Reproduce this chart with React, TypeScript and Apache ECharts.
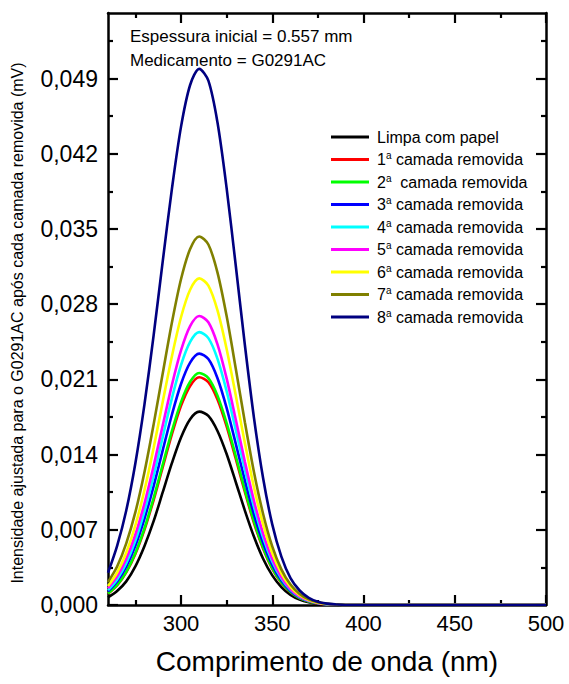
import React, { useEffect, useRef } from "react";
import * as echarts from "echarts";

const FONT = 'Arial, "Liberation Sans", sans-serif';

const wavelengths = [260, 265, 270, 275, 280, 285, 290, 295, 300, 305, 310, 315, 320, 325, 330, 335, 340, 345, 350, 355, 360, 365, 370, 375, 380, 385, 390, 400, 450, 500];

const seriesNames = [
  "Limpa com papel",
  "1ª camada removida",
  "2ª  camada removida",
  "3ª camada removida",
  "4ª camada removida",
  "5ª camada removida",
  "6ª camada removida",
  "7ª camada removida",
  "8ª camada removida",
];

const seriesColors = ["#000000", "#ff0000", "#00ff00", "#0000ff", "#00ffff", "#ff00ff", "#ffff00", "#808000", "#000080"];

const limpa = [0.0007, 0.0013, 0.0022, 0.0036, 0.0055, 0.0078, 0.0105, 0.0132, 0.0156, 0.0173, 0.0180, 0.0176, 0.0162, 0.01405, 0.01145, 0.00879, 0.00635, 0.00431, 0.00276, 0.00167, 0.00094, 0.0005, 0.00025, 0.00012, 0.00005, 0.00002, 0, 0, 0, 0];
const camada1 = [0.00104, 0.00182, 0.00303, 0.00475, 0.00702, 0.00977, 0.01283, 0.01588, 0.01853, 0.02039, 0.0212, 0.02073, 0.01912, 0.01662, 0.01361, 0.01052, 0.00763, 0.00524, 0.00337, 0.00205, 0.00118, 0.00064, 0.00032, 0.00015, 0.00007, 0.00003, 0, 0, 0, 0];
const camada2 = [0.00106, 0.00186, 0.00309, 0.00484, 0.00715, 0.00996, 0.01307, 0.01618, 0.01888, 0.02078, 0.0216, 0.02112, 0.01948, 0.01693, 0.01387, 0.01071, 0.00778, 0.00534, 0.00343, 0.00209, 0.0012, 0.00065, 0.00033, 0.00016, 0.00007, 0.00003, 0, 0, 0, 0];
const camada3 = [0.00127, 0.00219, 0.00358, 0.00552, 0.00805, 0.01107, 0.01441, 0.01771, 0.02057, 0.02256, 0.0234, 0.02289, 0.02111, 0.01835, 0.01502, 0.01161, 0.00842, 0.00578, 0.00372, 0.00227, 0.0013, 0.0007, 0.00036, 0.00017, 0.00008, 0.00003, 0, 0, 0, 0];
const camada4 = [0.00138, 0.00238, 0.00389, 0.00599, 0.00874, 0.01201, 0.01565, 0.01923, 0.02233, 0.02449, 0.0254, 0.02484, 0.02291, 0.01991, 0.01631, 0.0126, 0.00914, 0.00627, 0.00404, 0.00246, 0.00141, 0.00076, 0.00039, 0.00019, 0.00008, 0.00004, 0, 0, 0, 0];
const camada5 = [0.00156, 0.00266, 0.0043, 0.00656, 0.00947, 0.01294, 0.01673, 0.02047, 0.0237, 0.02596, 0.0269, 0.02631, 0.02426, 0.02109, 0.01727, 0.01334, 0.00968, 0.00664, 0.00428, 0.00261, 0.00149, 0.00081, 0.00041, 0.0002, 0.00009, 0.00004, 0, 0, 0, 0];
const camada6 = [0.00176, 0.00301, 0.00486, 0.00742, 0.0107, 0.01462, 0.01891, 0.02313, 0.02678, 0.02934, 0.0304, 0.02973, 0.02742, 0.02383, 0.01952, 0.01508, 0.01094, 0.00751, 0.00483, 0.00295, 0.00169, 0.00091, 0.00047, 0.00022, 0.0001, 0.00004, 0, 0, 0, 0];
const camada7 = [0.00213, 0.00358, 0.00573, 0.00864, 0.01238, 0.01681, 0.02157, 0.02627, 0.03032, 0.03313, 0.0343, 0.03355, 0.03094, 0.02689, 0.02202, 0.01701, 0.01235, 0.00847, 0.00545, 0.00332, 0.0019, 0.00103, 0.00052, 0.00025, 0.00011, 0.00005, 0, 0, 0, 0];
const camada8 = [0.0030, 0.0055, 0.0088, 0.0132, 0.0187, 0.0251, 0.0320, 0.0387, 0.0445, 0.0484, 0.0499, 0.0488, 0.0449, 0.0388, 0.0316, 0.0242, 0.0174, 0.0118, 0.0075, 0.0045, 0.0025, 0.00135, 0.00067, 0.0003, 0.00013, 0.00005, 0, 0, 0, 0];

const seriesValues = [limpa, camada1, camada2, camada3, camada4, camada5, camada6, camada7, camada8];

const xMajorTicks = [300, 350, 400, 450, 500];
const xMinorTicks = [275, 325, 375, 425, 475];
const yMajorTicks = [0, 0.007, 0.014, 0.021, 0.028, 0.035, 0.042, 0.049];
const yMinorTicks = [0.0035, 0.0105, 0.0175, 0.0245, 0.0315, 0.0385, 0.0455, 0.0525];

const annotationLines = ["Espessura inicial = 0.557 mm", "Medicamento = G0291AC"];
const xTitle = "Comprimento de onda (nm)";
const yTitle = "Intensidade ajustada para o G0291AC após cada camada removida (mV)";

function legendFormatter(name: string) {
  const m = name.match(/^(\d)ª(.*)$/);
  if (!m) return `{t|${name}}`;
  return `{t|${m[1]}}{s|a}{t|${m[2]}}`;
}

export default function App() {
  const ref = useRef<HTMLDivElement>(null);
  useEffect(() => {
    document.body.style.margin = "0";
    if (!ref.current) return;
    const chart = echarts.init(ref.current, null, { renderer: "svg" });
    const axisLineStyle = { color: "#000", width: 2.5 };
    const mkX = (position: string, ticks: number[], len: number, showLine: boolean, labels: boolean, extra: any = {}) => ({
      type: "value",
      position,
      min: 260,
      max: 500,
      gridIndex: 0,
      axisLine: { show: showLine, onZero: false, lineStyle: axisLineStyle },
      axisTick: { show: true, inside: true, length: len, customValues: ticks, lineStyle: { color: "#000", width: 2.2 } },
      axisLabel: labels
        ? { show: true, customValues: ticks, fontSize: 22, color: "#000", fontFamily: FONT, margin: 7 }
        : { show: false },
      splitLine: { show: false },
      ...extra,
    });
    const mkY = (position: string, ticks: number[], len: number, showLine: boolean, labels: boolean) => ({
      type: "value",
      position,
      min: 0,
      max: 0.0551,
      gridIndex: 0,
      axisLine: { show: showLine, onZero: false, lineStyle: axisLineStyle },
      axisTick: { show: true, inside: true, length: len, customValues: ticks, lineStyle: { color: "#000", width: 2.2 } },
      axisLabel: labels
        ? {
            show: true,
            customValues: ticks,
            fontSize: 23,
            color: "#000",
            fontFamily: FONT,
            margin: 10,
            formatter: (v: number) => v.toFixed(3).replace(".", ","),
          }
        : { show: false },
      splitLine: { show: false },
    });
    const option: any = {
      animation: false,
      textStyle: { fontFamily: FONT },
      grid: { left: 108, right: 23, top: 13, bottom: 79 },
      xAxis: [
        mkX("bottom", xMajorTicks, 10, true, true, {
          name: xTitle,
          nameLocation: "middle",
          nameGap: 42,
          nameTextStyle: { fontSize: 28, color: "#000", fontFamily: FONT },
        }),
        mkX("bottom", xMinorTicks, 5, false, false),
        mkX("top", xMajorTicks, 10, true, false),
        mkX("top", xMinorTicks, 5, false, false),
      ],
      yAxis: [
        mkY("left", yMajorTicks, 10, true, true),
        mkY("left", yMinorTicks, 5, false, false),
        mkY("right", yMajorTicks, 10, true, false),
        mkY("right", yMinorTicks, 5, false, false),
      ],
      legend: {
        orient: "vertical",
        left: 326,
        top: 124,
        icon: "rect",
        itemWidth: 38,
        itemHeight: 3,
        itemGap: 5.5,
        selectedMode: false,
        data: seriesNames,
        formatter: legendFormatter,
        textStyle: {
          color: "#000",
          padding: [0, 0, 0, 3],
          rich: {
            t: { fontSize: 16, lineHeight: 18, color: "#000", fontFamily: FONT },
            s: { fontSize: 10, lineHeight: 18, color: "#000", fontFamily: FONT, verticalAlign: "top" },
          },
        },
      },
      graphic: [
        {
          type: "text",
          x: 130,
          y: 36,
          style: { text: annotationLines[0], fontSize: 17, fontFamily: FONT, fill: "#000", textVerticalAlign: "middle" },
        },
        {
          type: "text",
          x: 130,
          y: 60,
          style: { text: annotationLines[1], fontSize: 17, fontFamily: FONT, fill: "#000", textVerticalAlign: "middle" },
        },
        {
          type: "text",
          x: 17,
          y: 323,
          rotation: Math.PI / 2,
          style: {
            text: yTitle,
            fontSize: 16,
            fontFamily: FONT,
            fill: "#000",
            textAlign: "center",
            textVerticalAlign: "middle",
          },
        },
      ],
      series: seriesNames.map((name, i) => ({
        name,
        type: "line",
        xAxisIndex: 0,
        yAxisIndex: 0,
        showSymbol: false,
        symbol: "none",
        smooth: 0.3,
        color: seriesColors[i],
        lineStyle: { color: seriesColors[i], width: 2.6 },
        data: wavelengths.map((w, j) => [w, seriesValues[i][j]]),
      })),
    };
    chart.setOption(option);
    return () => chart.dispose();
  }, []);
  return <div ref={ref} style={{ width: 569, height: 684 }} />;
}
